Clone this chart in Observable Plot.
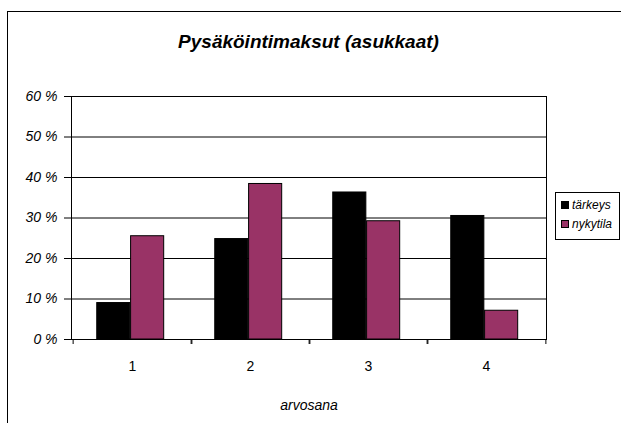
<!DOCTYPE html>
<html>
<head>
<meta charset="utf-8">
<script src="https://cdn.jsdelivr.net/npm/d3@7"></script>
<script src="https://cdn.jsdelivr.net/npm/@observablehq/plot@0.6"></script>
<style>
  html, body { margin: 0; padding: 0; background: #fff; overflow: hidden; }
  #wrap { position: relative; width: 621px; height: 423px; overflow: hidden; font-family: "Liberation Sans", Arial, sans-serif; }
  #border { position: absolute; left: 7px; top: 11px; width: 700px; height: 500px; border: 1.5px solid #000; box-sizing: border-box; }
  #title { position: absolute; left: 0; width: 617px; top: 31px; text-align: center; font-size: 19px; font-weight: bold; font-style: italic; color: #000; }
  #chart { position: absolute; left: 0; top: 0; }
  #legend { position: absolute; left: 555px; top: 192px; width: 65px; height: 48px; border: 1px solid #000; box-sizing: border-box; background: #fff; font-size: 12px; font-style: italic; }
  .item { position: absolute; left: 5px; height: 14px; line-height: 14px; white-space: nowrap; }
  .sw { display: inline-block; width: 8px; height: 8px; border: 1px solid #000; box-sizing: border-box; margin-right: 3px; vertical-align: 0px; }
</style>
</head>
<body>
<div id="wrap">
  <div id="border"></div>
  <div id="chart"></div>
  <div id="title"></div>
  <div id="legend"></div>
</div>
<script>
const title = "Pysäköintimaksut (asukkaat)";
const categories = ["1", "2", "3", "4"];
const seriesNames = ["tärkeys", "nykytila"];
const seriesColors = ["#000000", "#993366"];
const tarkeys = [0.090, 0.248, 0.363, 0.305];
const nykytila = [0.255, 0.384, 0.292, 0.071];
const yTicks = [0, 0.1, 0.2, 0.3, 0.4, 0.5, 0.6];
const xLabel = "arvosana";

document.getElementById("title").textContent = title;

const rowsT = categories.map((c, i) => ({cat: c, value: tarkeys[i]}));
const rowsN = categories.map((c, i) => ({cat: c, value: nykytila[i]}));

const W = 621, H = 423;
const mL = 71, mR = 75, mT = 96, mB = 84;
const band = (W - mL - mR) / categories.length;

const plot = Plot.plot({
  width: W,
  height: H,
  marginLeft: mL,
  marginRight: mR,
  marginTop: mT,
  marginBottom: mB,
  style: {fontFamily: "'Liberation Sans', Arial, sans-serif", fontSize: "14px", color: "#000", background: "transparent"},
  x: {domain: categories, padding: 0, label: null},
  y: {domain: [0, 0.6], label: null},
  marks: [
    Plot.gridY(yTicks, {stroke: "#000", strokeOpacity: 1, strokeWidth: 1}),
    Plot.barY(rowsT, {x: "cat", y: "value", fill: seriesColors[0], stroke: "#000", strokeWidth: 1,
      insetLeft: band * 0.2, insetRight: band * 0.515}),
    Plot.barY(rowsN, {x: "cat", y: "value", fill: seriesColors[1], stroke: "#000", strokeWidth: 1,
      insetLeft: band * 0.485, insetRight: band * 0.23}),
    Plot.frame({stroke: "#000", strokeWidth: 1}),
    Plot.axisY(yTicks, {anchor: "left", tickSize: 7, tickPadding: 7, fontStyle: "italic", fontSize: 14,
      tickFormat: d => Math.round(d * 100) + " %", label: null}),
    Plot.axisX({anchor: "bottom", tickSize: 0, tickPadding: 22, fontSize: 14, label: null}),
    Plot.axisX({anchor: "bottom", tickSize: 5, dx: band / 2, tickFormat: () => "", label: null}),
    Plot.axisX({anchor: "bottom", tickSize: 5, dx: -band / 2, tickFormat: () => "", label: null}),
    Plot.text([xLabel], {frameAnchor: "bottom", dy: 70, fontStyle: "italic", fontSize: 14, text: d => d})
  ]
});
document.getElementById("chart").appendChild(plot);

const legend = document.getElementById("legend");
seriesNames.forEach((name, i) => {
  const item = document.createElement("div");
  item.className = "item";
  item.style.top = (5 + i * 19) + "px";
  const sw = document.createElement("span");
  sw.className = "sw";
  sw.style.background = seriesColors[i];
  item.appendChild(sw);
  item.appendChild(document.createTextNode(name));
  legend.appendChild(item);
});
</script>
</body>
</html>
